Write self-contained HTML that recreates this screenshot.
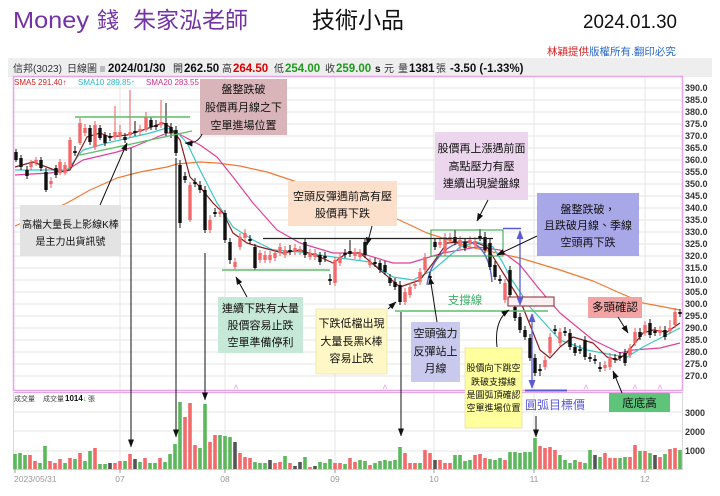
<!DOCTYPE html>
<html><head><meta charset="utf-8"><style>
html,body{margin:0;padding:0;background:#fff;}
svg{display:block;font-family:"Liberation Sans","Noto Sans CJK TC",sans-serif;}
</style></head><body>
<svg width="720" height="496" viewBox="0 0 720 496" xmlns="http://www.w3.org/2000/svg">
<defs>
<marker id="ah" markerWidth="8" markerHeight="6" refX="7.5" refY="3" orient="auto" markerUnits="userSpaceOnUse"><path d="M0,0L8,3L0,6z" fill="#111"/></marker>
<marker id="bh" markerWidth="9" markerHeight="7" refX="8" refY="3.5" orient="auto" markerUnits="userSpaceOnUse"><path d="M0,0L9,3.5L0,7z" fill="#5b5bd6"/></marker>
<marker id="bs" markerWidth="9" markerHeight="7" refX="1" refY="3.5" orient="auto" markerUnits="userSpaceOnUse"><path d="M9,0L0,3.5L9,7z" fill="#5b5bd6"/></marker>
</defs>
<rect width="720" height="496" fill="#fff"/>
<!-- header -->
<text x="13" y="28" font-size="23" fill="#7332a6" textLength="76" lengthAdjust="spacingAndGlyphs">Money</text>
<text x="97" y="28" font-size="22" fill="#7332a6">錢</text>
<text x="133" y="28" font-size="23" fill="#7332a6" textLength="115" lengthAdjust="spacingAndGlyphs">朱家泓老師</text>
<text x="312" y="28" font-size="23" fill="#111" textLength="92" lengthAdjust="spacingAndGlyphs">技術小品</text>
<text x="583" y="28" font-size="19" fill="#111" textLength="94" lengthAdjust="spacingAndGlyphs">2024.01.30</text>
<text x="547" y="55" font-size="10.5"><tspan fill="#d42020">林穎提供</tspan><tspan fill="#2a6ac8">版權所有.翻印必究</tspan></text>
<!-- info bar -->
<rect x="8" y="58" width="704" height="19" fill="#eeeeee"/>
<g font-size="10" fill="#333">
<text x="13" y="72">信邦(3023)</text>
<text x="67" y="72">日線圖</text>
<rect x="100" y="66" width="5" height="6" fill="#bbb"/>
<text x="108" y="72" font-weight="bold" font-size="11.5" fill="#111">2024/01/30</text>
<text x="173" y="72">開</text><text x="184" y="72" font-weight="bold" font-size="11.5" fill="#111">262.50</text>
<text x="222" y="72">高</text><text x="233" y="72" font-weight="bold" font-size="11.5" fill="#e00000">264.50</text>
<text x="274" y="72">低</text><text x="285" y="72" font-weight="bold" font-size="11.5" fill="#1f9a1f">254.00</text>
<text x="325" y="72">收</text><text x="336" y="72" font-weight="bold" font-size="11.5" fill="#1f9a1f">259.00</text>
<text x="375" y="72" font-weight="bold" fill="#111">s</text><text x="384" y="72">元</text>
<text x="398" y="72">量</text><text x="409" y="72" font-weight="bold" font-size="11.5" fill="#111">1381</text><text x="436" y="72">張</text>
<text x="450" y="72" font-weight="bold" font-size="11.5" fill="#111">-3.50 (-1.33%)</text>
</g>
<!-- grid -->
<g stroke="#e6e6e6" stroke-width="1">
<path d="M14 88H682M14 100H682M14 112H682M14 124H682M14 136H682M14 148H682M14 160H682M14 172H682M14 184H682M14 196H682M14 208H682M14 220H682M14 232H682M14 244H682M14 256H682M14 268H682M14 280H682M14 292H682M14 304H682M14 316H682M14 328H682M14 340H682M14 352H682M14 364H682M14 376H682"/>
<path d="M14 412H682M14 431H682M14 451H682"/>
<path d="M120 77V469M225 77V469M335 77V469M434 77V469M534 77V469M645 77V469"/>
</g>
<!-- panel borders -->
<rect x="13.5" y="76.5" width="669" height="314" fill="none" stroke="#e9a3e9" stroke-width="1.5"/>
<path d="M13 392.5H683" stroke="#e9a3e9" stroke-width="1"/>
<path d="M13.5 392V470M682.5 392V470" stroke="#d8d8d8" stroke-width="1"/>
<path d="M13 469.5H683" stroke="#ccc" stroke-width="1"/>
<path d="M15 469V473M120 469V473M225 469V473M335 469V473M434 469V473M534 469V473M645 469V473" stroke="#999"/>
<!-- axis labels -->
<g font-size="9" font-weight="bold" fill="#333">
<text x="685" y="91">390.0</text><text x="685" y="103">385.0</text><text x="685" y="115">380.0</text><text x="685" y="127">375.0</text><text x="685" y="139">370.0</text><text x="685" y="151">365.0</text><text x="685" y="163">360.0</text><text x="685" y="175">355.0</text><text x="685" y="187">350.0</text><text x="685" y="199">345.0</text><text x="685" y="211">340.0</text><text x="685" y="223">335.0</text><text x="685" y="235">330.0</text><text x="685" y="247">325.0</text><text x="685" y="259">320.0</text><text x="685" y="271">315.0</text><text x="685" y="283">310.0</text><text x="685" y="295">305.0</text><text x="685" y="307">300.0</text><text x="685" y="319">295.0</text><text x="685" y="331">290.0</text><text x="685" y="343">285.0</text><text x="685" y="355">280.0</text><text x="685" y="367">275.0</text><text x="685" y="379">270.0</text>
<text x="685" y="416">3000</text><text x="685" y="435">2000</text><text x="685" y="454">1000</text>
</g>
<g font-size="8.5" fill="#999">
<text x="14" y="482">2023/05/31</text>
<text x="120" y="482" text-anchor="middle">07</text>
<text x="225" y="482" text-anchor="middle">08</text>
<text x="335" y="482" text-anchor="middle">09</text>
<text x="434" y="482" text-anchor="middle">10</text>
<text x="534" y="482" text-anchor="middle">11</text>
<text x="645" y="482" text-anchor="middle">12</text>
</g>
<!-- SMA legend -->
<g font-size="8">
<text x="14" y="85" fill="#d42020">SMA5 291.40↑</text>
<text x="78" y="85" fill="#2ab8c8">SMA10 289.85↑</text>
<text x="146" y="85" fill="#d0308a">SMA20 283.55</text>
</g>
<g font-size="7" fill="#444">
<text x="14" y="401">成交量</text>
<text x="43" y="401">成交量</text>
<text x="65" y="401" font-weight="bold" font-size="8" fill="#111">1014</text>
<text x="83" y="401" fill="#1f9a1f">↓</text>
<text x="88" y="401">張</text>
</g>
<!-- MAs -->
<g fill="none" stroke-width="1.2" stroke-linejoin="round">
<polyline stroke="#f07a35" points="15,226 40,215 67,203 90,190 117,178 140,172 167,167 177,164 200,162 217,163 240,166 267,172 300,183 330,195 360,206 393,217 427,233 470,247 520,258 560,270 593,281 620,293 643,303 680,310"/>
<polyline stroke="#e0409a" points="15,175 50,173 67,170 83,160 117,152 133,147 150,140 167,133 177,133 200,145 217,157 233,177 253,203 277,230 300,243 333,253 360,253 393,263 410,263 443,253 477,247 500,250 520,265 540,290 560,313 593,340 620,353 633,350 660,348 680,343"/>
<polyline stroke="#3cc6c6" points="15,170 67,170 83,150 107,143 133,137 150,133 167,128 177,132 187,143 200,170 217,203 233,227 253,240 273,250 300,252 333,257 370,262 393,277 413,280 433,270 460,247 477,242 493,247 503,263 510,277 530,307 560,340 587,350 613,355 627,357 643,347 680,328"/>
<polyline stroke="#8b1c1c" points="15,167 33,162 60,172 70,170 87,137 100,133 110,137 127,135 143,130 163,123 170,127 180,140 190,177 200,187 213,203 223,213 233,233 247,243 260,247 283,253 300,250 320,257 333,263 347,253 360,253 380,270 400,287 420,280 433,263 447,243 460,242 477,243 487,247 500,268 520,300 540,350 550,358 560,347 573,337 593,343 607,357 617,360 627,353 643,333 653,330 667,332 680,323"/>
<path d="M427,285 C430,262 445,246 462,242 C478,239 490,255 492,282" stroke="#5b6ad0" stroke-width="1.4"/>
</g>
<!-- candles -->
<path fill="none" stroke="#111" stroke-width="1" d="M16 149V162M21 155V170M27 166V179M41 157V171M46 168V192M56 165V178M75 146V156M90 125V145M100 125V140M105 132V146M110 133V141M125 133V143M135 121V136M151 117V130M156 120V130M166 103V136M171 123V138M176 126V156M180 160V228M185 172V183M195 178V187M200 181V193M205 186V233M215 208V217M225 210V243M230 238V264M250 235V244M255 244V270M290 245V255M305 238V258M320 252V265M325 252V262M330 274V285M345 249V258M350 240V257M365 238V258M375 258V267M380 260V273M385 261V275M390 274V286M395 278V290M400 281V305M430 272V281M435 238V250M455 230V245M465 238V251M480 229V241M485 232V253M490 239V270M495 261V280M500 275V284M510 266V298M515 303V321M520 313V333M525 326V340M530 334V361M535 354V376M540 364V376M555 325V334M565 327V336M570 329V350M575 343V356M580 345V354M585 336V360M590 353V362M595 355V364M600 362V372M615 354V363M620 352V361M625 349V366M640 328V340M650 319V338M655 327V336M665 326V340M680 309V317"/>
<path fill="none" stroke="#111" stroke-width="3.4" d="M16 152V160M21 158V167M27 170V176M41 160V168M46 172V190M56 168V175M75 151V153M90 128V142M100 128V138M105 135V143M110 136V138M125 137V140M135 131V133M151 120V127M156 125V127M166 123V133M171 127V133M176 130V153M180 165V223M185 176V180M195 182V184M200 185V190M205 190V230M215 212V214M225 213V240M230 242V260M250 239V241M255 247V268M290 250V252M305 242V255M320 255V262M325 256V258M330 279V281M345 253V255M350 251V254M365 242V255M375 262V264M380 263V270M385 265V272M390 278V283M395 282V287M400 285V302M430 276V278M435 242V247M455 237V242M465 242V248M480 236V238M485 237V250M490 243V267M495 265V277M500 279V281M510 270V295M515 307V318M520 317V330M525 330V337M530 338V358M535 358V373M540 369V371M555 329V331M565 331V333M570 333V347M575 347V353M580 349V351M585 340V357M590 357V359M595 359V361M600 367V369M615 358V360M620 356V358M625 353V363M640 332V337M650 323V335M655 331V333M665 330V337M680 312V314"/>
<path fill="none" stroke="#e85a5a" stroke-width="1" d="M31 160V170M36 157V166M51 177V188M60 159V175M65 162V175M70 137V169M80 118V145M85 124V136M95 121V150M115 106V140M120 125V139M130 90V138M140 125V135M146 112V132M161 100V128M190 182V222M210 215V233M220 208V217M235 258V270M240 233V250M245 229V241M260 250V263M265 251V263M270 251V263M275 249V261M280 243V256M285 246V258M295 244V255M300 246V255M310 249V260M315 249V260M335 257V286M340 253V266M355 248V259M360 249V260M370 258V268M405 288V305M410 283V298M415 280V289M420 268V285M425 253V273M440 238V248M445 233V256M450 233V243M460 236V249M470 236V246M475 237V248M505 279V303M545 356V370M550 333V356M560 328V346M605 361V371M610 353V370M630 344V358M635 328V346M645 321V336M660 326V336M670 320V334M675 308V328"/>
<path fill="none" stroke="#f26a6a" stroke-width="3.4" d="M31 163V167M36 160V163M51 181V184M60 162V173M65 165V173M70 140V167M80 123V143M85 128V133M95 125V147M115 132V137M120 132V136M130 132V135M140 129V132M146 117V130M161 122V125M190 185V220M210 220V230M220 212V214M235 262V267M240 237V247M245 233V238M260 253V260M265 255V260M270 255V260M275 253V258M280 247V253M285 250V255M295 248V252M300 249V252M310 253V257M315 253V257M335 260V283M340 257V263M355 252V256M360 253V257M370 262V265M405 292V302M410 287V295M415 284V286M420 272V282M425 257V270M440 242V245M445 237V253M450 237V240M460 240V246M470 240V243M475 241V245M505 283V300M545 360V367M550 337V353M560 332V343M605 365V368M610 357V367M630 348V355M635 332V343M645 325V333M660 330V333M670 328V331M675 312V325"/>
<!-- volume -->
<path fill="none" stroke="#5cb85c" stroke-width="3.6" d="M15 454V469M20 453V469M25 455V469M40 463V469M45 446V469M65 463V469M75 459V469M85 461V469M90 451V469M100 464V469M105 464V469M125 461V469M140 462V469M150 463V469M155 463V469M165 462V469M170 454V469M175 444V469M180 402V469M200 448V469M205 404V469M220 435V469M225 436V469M230 437V469M255 462V469M260 463V469M265 463V469M285 456V469M305 457V469M320 462V469M325 463V469M330 459V469M345 464V469M360 460V469M365 461V469M375 463V469M380 461V469M385 460V469M390 461V469M395 460V469M400 447V469M420 463V469M455 455V469M460 455V469M465 461V469M470 460V469M490 459V469M495 460V469M500 458V469M510 452V469M515 452V469M520 453V469M525 452V469M530 452V469M535 438V469M560 455V469M565 460V469M570 463V469M575 460V469M585 463V469M590 450V469M600 457V469M620 458V469M625 457V469M640 451V469M650 453V469M665 454V469M680 450V469"/>
<path fill="none" stroke="#f26a6a" stroke-width="3.6" d="M30 455V469M35 461V469M50 461V469M55 463V469M60 459V469M70 458V469M80 453V469M95 448V469M115 463V469M120 461V469M130 454V469M145 458V469M160 458V469M185 417V469M190 403V469M195 445V469M210 442V469M215 435V469M240 453V469M245 457V469M250 458V469M275 463V469M280 462V469M290 463V469M310 467V469M335 463V469M340 463V469M350 458V469M355 462V469M370 465V469M405 453V469M410 463V469M415 463V469M425 450V469M430 453V469M440 460V469M445 463V469M450 463V469M475 455V469M480 454V469M485 458V469M505 460V469M540 446V469M545 448V469M550 447V469M555 450V469M580 462V469M605 453V469M610 458V469M615 458V469M630 457V469M635 445V469M645 451V469M660 457V469M670 449V469M675 448V469"/>
<path fill="none" stroke="#555" stroke-width="3.6" d="M110 463V469M135 459V469M235 442V469M270 460V469M295 466V469M300 462V469M315 466V469M435 460V469M595 455V469M655 455V469"/>
<!-- small markers -->
<g fill="none" stroke="#e9a3e9" stroke-width="0.8"><path d="M383 389L385 385L387 389M584 389L586 385L588 389M633 389L635 385L637 389M658 389L660 385L662 389M234 389L236 385L238 389"/></g>
<!-- drawn lines -->
<g stroke="#5cbf6b" stroke-width="1.4" fill="none">
<path d="M75 117H190"/>
<path d="M80 155L192 131"/>
<path d="M222 270H330"/>
<path d="M395 311H548"/>
</g>
<rect x="431" y="230" width="72" height="26" fill="none" stroke="#3caa55" stroke-width="1.1"/>
<path d="M263 238.5H493" stroke="#222" stroke-width="1.3"/>
<rect x="508" y="297" width="46" height="9" fill="#faf0f2" stroke="#8b2030" stroke-width="1"/>
<!-- blue arrows -->
<g stroke="#5b5bd6" fill="none">
<path d="M503 228.5H521" stroke-width="1.5"/>
<path d="M520 231V305" stroke-width="1.3" marker-start="url(#bs)" marker-end="url(#bh)"/>
<path d="M532 314V388" stroke-width="1.3" marker-start="url(#bs)" marker-end="url(#bh)"/>
<path d="M525 390.5H567" stroke-width="2"/>
</g>
<!-- boxes -->
<g font-size="11" fill="#111" text-anchor="middle">
<rect x="200" y="79" width="87" height="56" fill="#d9b5ba"/>
<text x="243.5" y="93">盤整跌破</text><text x="243.5" y="111">股價再月線之下</text><text x="243.5" y="129">空單進場位置</text>
<rect x="20" y="205" width="101" height="51" fill="#e3e3e3"/>
<text x="70.5" y="228" font-size="10">高檔大量長上影線K棒</text><text x="70.5" y="245" font-size="10">是主力出貨訊號</text>
<rect x="288" y="181" width="109" height="45" fill="#fce0cc"/>
<text x="342.5" y="200">空頭反彈遇前高有壓</text><text x="342.5" y="217">股價再下跌</text>
<rect x="435" y="132" width="93" height="68" fill="#ecd6ed"/>
<text x="481.5" y="152">股價再上漲遇前面</text><text x="481.5" y="170">高點壓力有壓</text><text x="481.5" y="187">連續出現變盤線</text>
<rect x="537" y="193" width="102" height="63" fill="#a8a8e9"/>
<text x="588" y="213">盤整跌破，</text><text x="588" y="229">且跌破月線、季線</text><text x="588" y="246">空頭再下跌</text>
<rect x="218" y="297" width="85" height="56" fill="#c6e8d6"/>
<text x="260.5" y="312">連續下跌有大量</text><text x="260.5" y="329">股價容易止跌</text><text x="260.5" y="346">空單準備停利</text>
<rect x="316" y="309" width="71" height="65" fill="#fff8c6" stroke="#e0dca0" stroke-width="0.6"/>
<text x="351.5" y="327">下跌低檔出現</text><text x="351.5" y="345">大量長黑K棒</text><text x="351.5" y="362">容易止跌</text>
<rect x="411" y="322" width="49" height="60" fill="#c9c9ee"/>
<text x="435.5" y="337">空頭強力</text><text x="435.5" y="355">反彈站上</text><text x="435.5" y="372">月線</text>
<rect x="465" y="348" width="57" height="80" fill="#ffff9e" stroke="#d8d890" stroke-width="0.6"/>
<text x="493.5" y="371" font-size="9">股價向下跳空</text><text x="493.5" y="385" font-size="9">跌破支撐線</text><text x="493.5" y="398" font-size="9">是圓弧頂確認</text><text x="493.5" y="411" font-size="9">空單進場位置</text>
<rect x="588" y="297" width="54" height="21" fill="#f2a3a3"/>
<text x="615" y="311" font-size="11.5">多頭確認</text>
<rect x="609" y="393" width="61" height="19" fill="#5ec47a"/>
<text x="639.5" y="407" font-size="11.5">底底高</text>
<text x="465" y="304" font-size="11.5" fill="#3aae66">支撐線</text>
<text x="555" y="409" font-size="12" fill="#5b5bd6">圓弧目標價</text>
</g>
<!-- black arrows -->
<g stroke="#111" stroke-width="1" fill="none" marker-end="url(#ah)">
<path d="M100 205L127 143"/>
<path d="M202 134Q198 144 185 143"/>
<path d="M131 148V447"/>
<path d="M176 158V437"/>
<path d="M205 253V400"/>
<path d="M401 312V436"/>
<path d="M536 416V437"/>
<path d="M372 226L367 245"/>
<path d="M488 200L477 221"/>
<path d="M537 236L497 255"/>
<path d="M247 297L236 277"/>
<path d="M388 309L396 302"/>
<path d="M437 322L430 277"/>
<path d="M497 347Q494 320 509 310"/>
<path d="M618 317L628 333"/>
<path d="M622 393L613 371"/>
</g>
</svg>
</body></html>
